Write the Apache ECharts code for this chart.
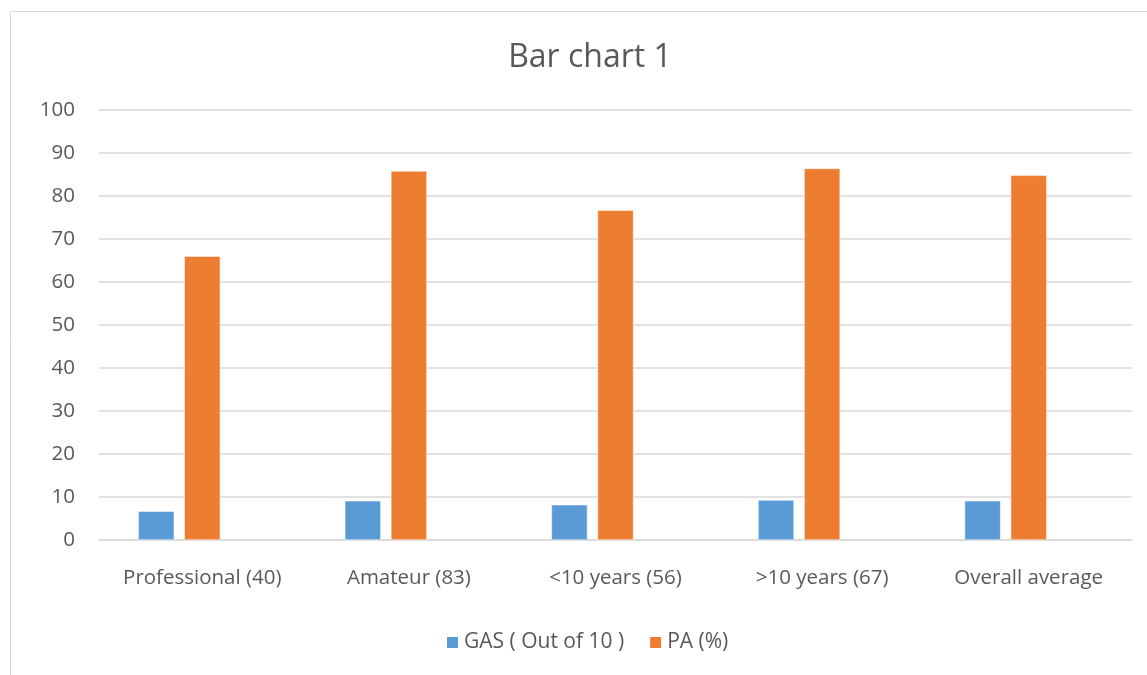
<!DOCTYPE html>
<html><head><meta charset="utf-8">
<script src="https://cdn.jsdelivr.net/npm/echarts@6/dist/echarts.min.js"></script>
<style>html,body{margin:0;padding:0;background:#fff}#c{width:1147px;height:675px}</style>
</head><body><div id="c"></div>
<script>
const categories = ['Professional (40)', 'Amateur (83)', '<10 years (56)', '>10 years (67)', 'Overall average'];
const gasValues = [6.7, 9.1, 8.2, 9.3, 9.1];
const paValues = [66.0, 85.8, 76.7, 86.4, 84.8];
const emptySeries = [null, null, null, null, null];
const seriesNames = ['GAS ( Out of 10 )', 'PA (%)'];
const titleText = 'Bar chart 1';

const font = 'Open Sans';
const chart = echarts.init(document.getElementById('c'));
chart.setOption({
  animation: false,
  backgroundColor: '#fff',
  graphic: [{type: 'rect', shape: {x: 10.5, y: 11.5, width: 1200, height: 700}, style: {fill: 'none', stroke: '#d9d9d9', lineWidth: 1}, z: -1}],
  title: {text: titleText, left: 585, top: 37, textAlign: 'center',
    textStyle: {fontFamily: font, fontSize: 32, fontWeight: 'normal', color: '#595959'}},
  legend: {data: seriesNames, bottom: 17, left: 440, itemWidth: 13, itemHeight: 13, itemGap: 24,
    icon: 'rect', textStyle: {fontFamily: font, fontSize: 21, color: '#595959'}},
  grid: {left: 99, right: 15, top: 110, bottom: 135, containLabel: false},
  xAxis: {type: 'category', data: categories,
    axisLine: {lineStyle: {color: '#d9d9d9', width: 1.5}}, axisTick: {show: false},
    axisLabel: {fontFamily: font, fontSize: 20.5, color: '#595959', margin: 28}},
  yAxis: {type: 'value', min: 0, max: 100, interval: 10,
    axisLine: {show: false}, axisTick: {show: false},
    splitLine: {lineStyle: {color: '#d9d9d9', width: 1.5}},
    axisLabel: {fontFamily: font, fontSize: 20.5, color: '#595959', margin: 24}},
  series: [
    {name: seriesNames[0], type: 'bar', data: gasValues, barWidth: 36, barGap: '28%',
      itemStyle: {color: '#5B9BD5', borderColor: '#fff', borderWidth: 0.5}},
    {name: seriesNames[1], type: 'bar', data: paValues, barWidth: 36, barGap: '28%',
      itemStyle: {color: '#ED7D31', borderColor: '#fff', borderWidth: 0.5}},
    {name: 'empty', type: 'bar', data: emptySeries, barWidth: 36, barGap: '28%'}
  ]
});
</script></body></html>
